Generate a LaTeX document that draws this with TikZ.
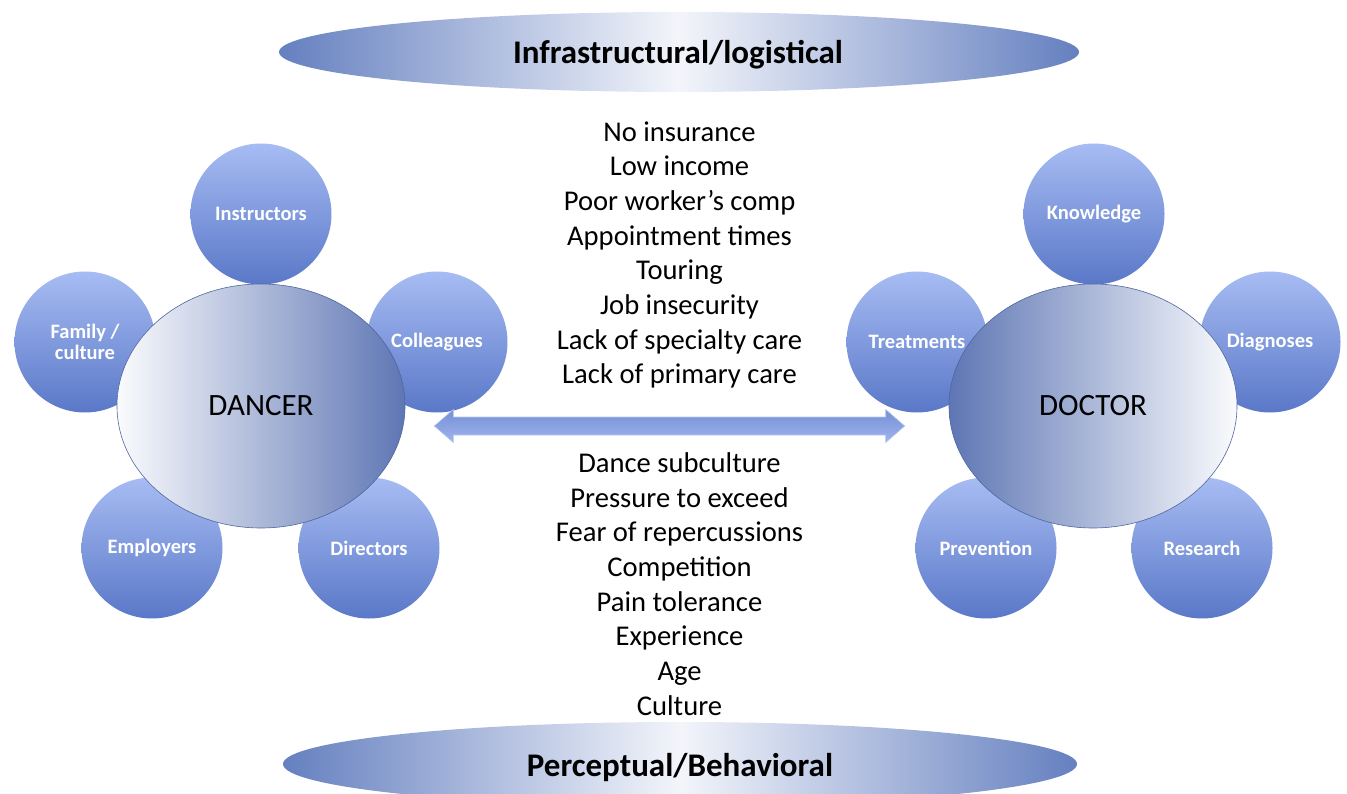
\documentclass[tikz,border=0pt]{standalone}
\usepackage{fontspec}
\setmainfont{Carlito}
\usetikzlibrary{shapes.geometric,calc}

\definecolor{circtop}{HTML}{A7BCF3}
\definecolor{circbot}{HTML}{5A78C8}
\definecolor{bandedge}{HTML}{6580C0}
\definecolor{bandmid}{HTML}{F3F5FA}
\definecolor{hubdark}{HTML}{5E76B4}
\definecolor{hublight}{HTML}{FAFBFD}
\definecolor{hubline}{HTML}{50669F}
\definecolor{arrowtop}{HTML}{7590D8}
\definecolor{arrowbot}{HTML}{A0B4EC}
\definecolor{arrowline}{HTML}{B8C6EE}

\tikzset{
  satellite/.style={circle, minimum size=141pt, inner sep=0pt,
    top color=circtop, bottom color=circbot, draw=none,
    text=white, font=\bfseries\fontsize{20.5}{21}\selectfont, align=center},
  band/.style={ellipse, inner sep=0pt, draw=none,
    left color=bandedge, right color=bandedge, middle color=bandmid},
  bandtext/.style={font=\bfseries\fontsize{33}{38}\selectfont},
  hub/.style={ellipse, minimum width=288pt, minimum height=244pt, inner sep=0pt,
    draw=hubline, line width=0.6pt, font=\fontsize{31}{34}\selectfont},
  factors/.style={align=center, font=\fontsize{28.6}{34.7}\selectfont},
  arrowbody/.style={top color=arrowtop, bottom color=arrowbot, draw=arrowline, line width=0.6pt}
}

\begin{document}
\begin{tikzpicture}[x=1pt,y=-1pt]
\useasboundingbox (0,0) rectangle (1347,794);

% category bands
\node[band, minimum width=800pt, minimum height=80pt] (infra) at (679,52) {};
\node[bandtext] (infralabel) at (678,55) {Infrastructural/logistical};
\node[band, minimum width=794pt, minimum height=84pt] (percep) at (680,764) {};
\node[bandtext] (perceplabel) at (680,768) {Perceptual/Behavioral};

% dancer cluster
\node[satellite] (instr) at (261,214) {Instructors};
\node[satellite] (family) at (85,342) {Family /\\culture};
\node[satellite] (colleag) at (437,342) {Colleagues};
\node[satellite] (employ) at (152,548) {Employers};
\node[satellite] (direct) at (369,548) {Directors};
\node[hub, left color=hublight, right color=hubdark] (dancer) at (261,406) {DANCER};

% doctor cluster
\node[satellite] (knowl) at (1094,214) {Knowledge};
\node[satellite] (treat) at (917,342) {Treatments};
\node[satellite] (diagn) at (1270,342) {Diagnoses};
\node[satellite] (prev) at (986,548) {Prevention};
\node[satellite] (resear) at (1202,548) {Research};
\node[hub, left color=hubdark, right color=hublight] (doctor) at (1093,406) {DOCTOR};

% two-headed block arrow between the hubs
\coordinate (aL) at ($(dancer.east)+(29,20)$);
\coordinate (aR) at ($(doctor.west)+(-44,20)$);
\path[arrowbody] (aL) -- ($(aL)+(19,-16.5)$) -- ($(aL)+(19,-9)$)
  -- ($(aR)+(-19,-9)$) -- ($(aR)+(-19,-16.5)$) -- (aR)
  -- ($(aR)+(-19,16.5)$) -- ($(aR)+(-19,9)$)
  -- ($(aL)+(19,9)$) -- ($(aL)+(19,16.5)$) -- cycle;

% barrier lists
\node[factors] (upper) at (679.5,255) {No insurance\\Low income\\Poor worker’s comp\\Appointment times\\Touring\\Job insecurity\\Lack of specialty care\\Lack of primary care};
\node[factors] (lower) at (679.5,584) {Dance subculture\\Pressure to exceed\\Fear of repercussions\\Competition\\Pain tolerance\\Experience\\Age\\Culture};
\end{tikzpicture}
\end{document}
